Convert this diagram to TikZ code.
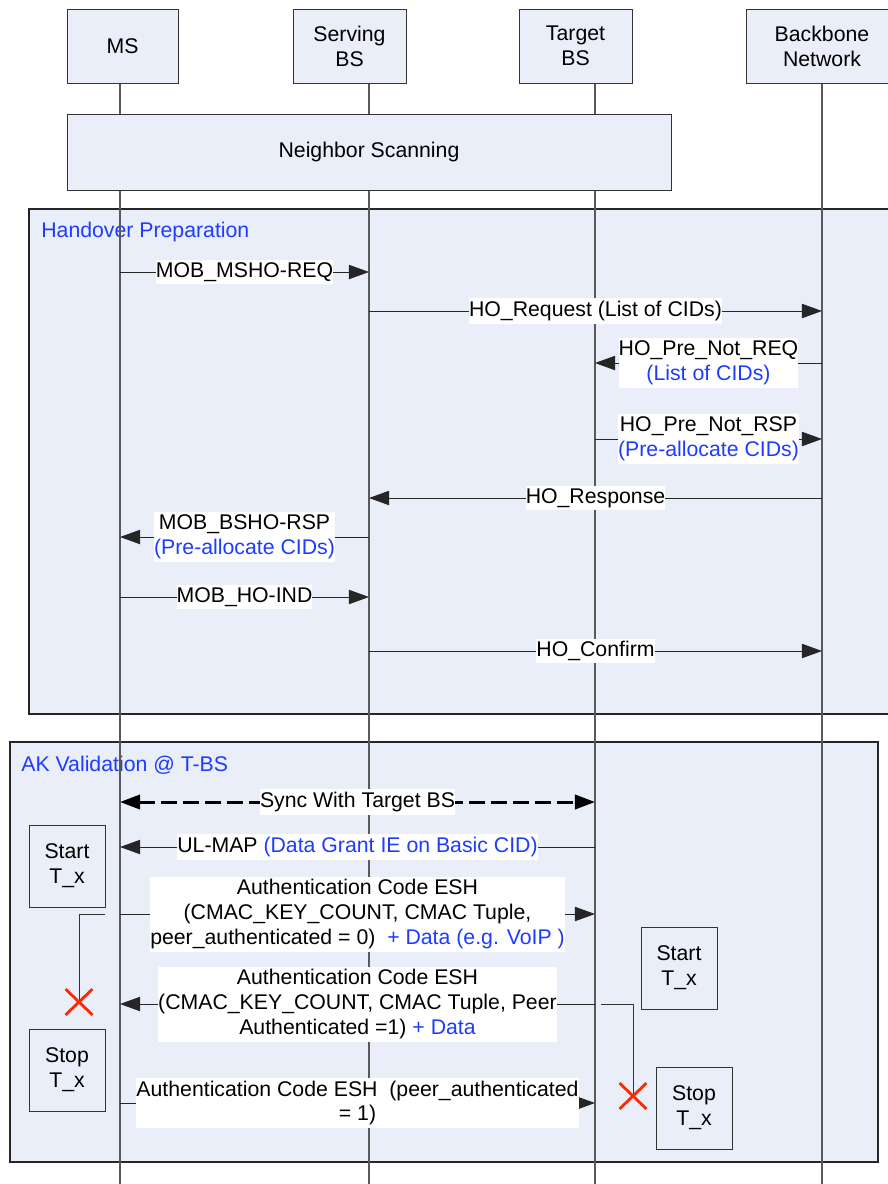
\documentclass[tikz,border=0pt]{standalone}
\usepackage{fontspec}
\setmainfont{Liberation Sans}
\usetikzlibrary{arrows.meta,shapes.misc}
\definecolor{boxfill}{RGB}{234,238,248}
\definecolor{noteblue}{RGB}{30,60,255}
\definecolor{stopred}{RGB}{255,40,0}

\begin{document}
\begin{tikzpicture}[x=0.02cm, y=-0.02cm, font=\fontsize{12.1}{14.2}\selectfont,
  entity/.style={draw=black!80, fill=boxfill, align=center, minimum height=1.48cm, inner sep=0pt},
  frame/.style={draw=black!85, fill=boxfill, line width=0.8pt},
  life/.style={draw=black!65, line width=0.7pt},
  msg/.style={draw=black!85, line width=0.5pt, -{Triangle[length=11.5pt,width=8.2pt]}},
  sync/.style={draw=black, line width=1.7pt, dash pattern=on 9pt off 3.5pt,
    {Triangle[length=11.5pt,width=8.2pt]}-{Triangle[length=11.5pt,width=8.2pt]}},
  lbl/.style={fill=white, inner xsep=0pt, inner ysep=1.5pt, align=center},
  timerbox/.style={draw=black!80, fill=boxfill, align=center, minimum width=1.52cm, minimum height=1.64cm, inner sep=0pt},
  tline/.style={draw=black!80, line width=0.5pt},
  stopx/.style={cross out, draw=stopred, line width=1.6pt, minimum width=0.48cm, minimum height=0.46cm, inner sep=0pt},
  note/.style={text=noteblue, inner sep=0pt}]

\useasboundingbox (0,0) rectangle (888,1184);

% phases
\draw[frame] (29,209) rectangle (900,714);
\draw[frame] (10,742) rectangle (878,1162);
\node[note, anchor=west] (hoprep) at (41,232) {Handover Preparation};
\node[note, anchor=west] (akval) at (21,765) {AK Validation @ T-BS};

% lifelines
\coordinate (ms) at (120,82);
\coordinate (sbs) at (369,82);
\coordinate (tbs) at (595,82);
\coordinate (bbn) at (822,82);
\foreach \l in {ms,sbs,tbs,bbn}
  \draw[life] (\l) -- (\l |- 0,1184);

% entities
\node[entity, minimum width=2.22cm] (msbox) at (122.5,46) {MS};
\node[entity, minimum width=2.26cm] (sbsbox) at (349.5,46) {Serving\\BS};
\node[entity, minimum width=2.26cm] (tbsbox) at (575.5,46) {Target\\BS};
\node[entity, minimum width=3.04cm] (bbnbox) at (822,46) {Backbone\\Network};
\node[entity, minimum width=12.08cm, minimum height=1.52cm] (scan) at (369,152) {Neighbor Scanning};

% handover preparation
\draw[msg] (ms |- 0,272) -- node[lbl] {MOB\_MSHO-REQ} (sbs |- 0,272);
\draw[msg] (sbs |- 0,311) -- node[lbl] {HO\_Request (List of CIDs)} (bbn |- 0,311);
\draw[msg] (bbn |- 0,363) -- node[lbl] {HO\_Pre\_Not\_REQ\\\textcolor{noteblue}{(List of CIDs)}} (tbs |- 0,363);
\draw[msg] (tbs |- 0,439) -- node[lbl] {HO\_Pre\_Not\_RSP\\\textcolor{noteblue}{(Pre-allocate CIDs)}} (bbn |- 0,439);
\draw[msg] (bbn |- 0,498) -- node[lbl] {HO\_Response} (sbs |- 0,498);
\draw[msg] (sbs |- 0,537) -- node[lbl] {MOB\_BSHO-RSP\\\textcolor{noteblue}{(Pre-allocate CIDs)}} (ms |- 0,537);
\draw[msg] (ms |- 0,597) -- node[lbl] {MOB\_HO-IND} (sbs |- 0,597);
\draw[msg] (sbs |- 0,651) -- node[lbl] {HO\_Confirm} (bbn |- 0,651);

% AK validation
\node[timerbox] (startl) at (67,866) {Start\\T\_x};
\node[timerbox] (stopl) at (67,1070) {Stop\\T\_x};
\node[timerbox] (startr) at (679,968) {Start\\T\_x};
\node[timerbox] (stopr) at (694,1108) {Stop\\T\_x};
\coordinate (tr) at (601,1004);
\draw[tline] (startl.east |- 0,914) -| (79,1002) coordinate (xlc);
\draw[tline] (tr) -| (633,1096) coordinate (xrc);
\node[stopx] (xl) at (xlc) {};
\node[stopx] (xr) at (xrc) {};

\draw[sync] (ms |- 0,802) -- node[lbl] {Sync With Target BS} (tbs |- 0,802);
\draw[msg] (tbs |- 0,847) -- node[lbl] {UL-MAP \textcolor{noteblue}{(Data Grant IE on Basic CID)}} (ms |- 0,847);
\draw[msg] (ms |- 0,914) -- node[lbl] {Authentication Code ESH\\(CMAC\_KEY\_COUNT, CMAC Tuple,\\peer\_authenticated = 0)~~\textcolor{noteblue}{+ Data (e.g. VoIP )}} (tbs |- 0,914);
\draw[msg] (tbs |- 0,1004) -- node[lbl] {Authentication Code ESH\\(CMAC\_KEY\_COUNT, CMAC Tuple, Peer\\Authenticated =1) \textcolor{noteblue}{+ Data}} (ms |- 0,1004);
\draw[msg] (ms |- 0,1103) -- node[lbl] {Authentication Code ESH~~(peer\_authenticated\\= 1)} (tbs |- 0,1103);

\end{tikzpicture}
\end{document}
